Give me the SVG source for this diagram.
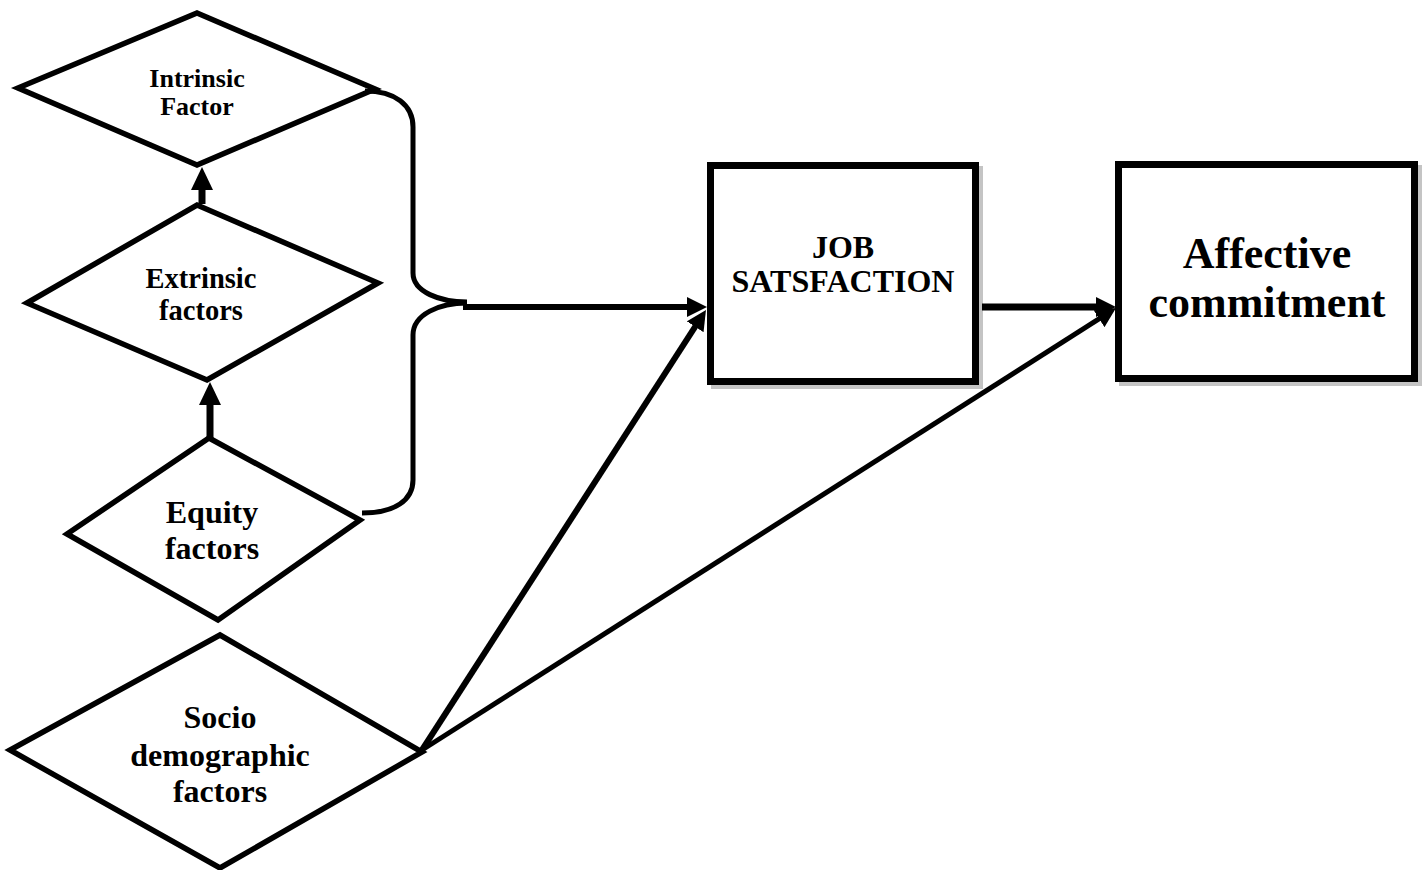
<svg xmlns="http://www.w3.org/2000/svg" width="1424" height="870" viewBox="0 0 1424 870">
<style>
text{font-family:"Liberation Serif","Times New Roman",serif;font-weight:bold;fill:#000;text-anchor:middle}
.dia{fill:#fff;stroke:#000;stroke-width:5.5;stroke-linejoin:miter}
.box{fill:#fff;stroke:#000;stroke-width:7}
.shadow{fill:#c4c4c4;stroke:none}
.con{fill:none;stroke:#000;stroke-linecap:butt}
</style>
<defs>
<marker id="ahBig" markerUnits="userSpaceOnUse" viewBox="0 0 23 22" markerWidth="23" markerHeight="22" refX="5" refY="11" orient="auto">
<path d="M0,0 L23,11 L0,22 z" fill="#000"/>
</marker>
<marker id="ah" markerUnits="userSpaceOnUse" viewBox="0 0 20 20" markerWidth="20" markerHeight="20" refX="4" refY="10" orient="auto">
<path d="M0,0 L20,10 L0,20 z" fill="#000"/>
</marker>
</defs>
<rect width="1424" height="870" fill="#fff"/>

<g id="intrinsic">
<polygon class="dia" points="197,13 375,89 197,165 18,88"/>
<text font-size="26" x="197" y="87">Intrinsic</text>
<text font-size="26" x="197" y="115">Factor</text>
</g>

<g id="extrinsic">
<polygon class="dia" points="197,205 378,283 207,380 27,303"/>
<text font-size="28.5" x="201" y="288">Extrinsic</text>
<text font-size="28.5" x="201" y="320">factors</text>
</g>

<g id="equity">
<polygon class="dia" points="209,438 360,520 218,620 67,534"/>
<text font-size="32" x="212" y="523">Equity</text>
<text font-size="32" x="212" y="559">factors</text>
</g>

<g id="socio">
<polygon class="dia" points="220,635 422,752 220,868 10,750"/>
<text font-size="32" x="220" y="728">Socio</text>
<text font-size="32" x="220" y="766">demographic</text>
<text font-size="32" x="220" y="802">factors</text>
</g>

<g id="job">
<rect class="shadow" x="711" y="166" width="272" height="223"/>
<rect class="box" x="710.5" y="165.5" width="265" height="216"/>
<text font-size="32" x="843" y="258">JOB</text>
<text font-size="32" x="843" y="292">SATSFACTION</text>
</g>

<g id="affective">
<rect class="shadow" x="1119" y="165" width="303" height="221"/>
<rect class="box" x="1118.5" y="164.5" width="296" height="214"/>
<text font-size="44" x="1267" y="268">Affective</text>
<text font-size="44" x="1267" y="317">commitment</text>
</g>

<g id="connectors">
<line class="con" x1="210" y1="438" x2="210" y2="400" stroke-width="7" marker-end="url(#ahBig)"/>
<line class="con" x1="202" y1="204" x2="202" y2="185" stroke-width="7" marker-end="url(#ahBig)"/>
<path class="con" stroke-width="5" d="M365,91 C395,91 413,105 413,127 L413,273 C413,292 440,302 467,302"/>
<path class="con" stroke-width="5" d="M467,303 C440,303 413,314 413,335 L413,480 C413,500 395,513 362,513"/>
<line class="con" x1="463" y1="307" x2="691" y2="307" stroke-width="6" marker-end="url(#ah)"/>
<line class="con" x1="422" y1="750" x2="697.3" y2="323.4" stroke-width="6" marker-end="url(#ah)"/>
<line class="con" x1="422" y1="750" x2="1102.5" y2="316.6" stroke-width="5" marker-end="url(#ah)"/>
<line class="con" x1="982" y1="307" x2="1100" y2="307" stroke-width="7" marker-end="url(#ah)"/>
</g>
</svg>
